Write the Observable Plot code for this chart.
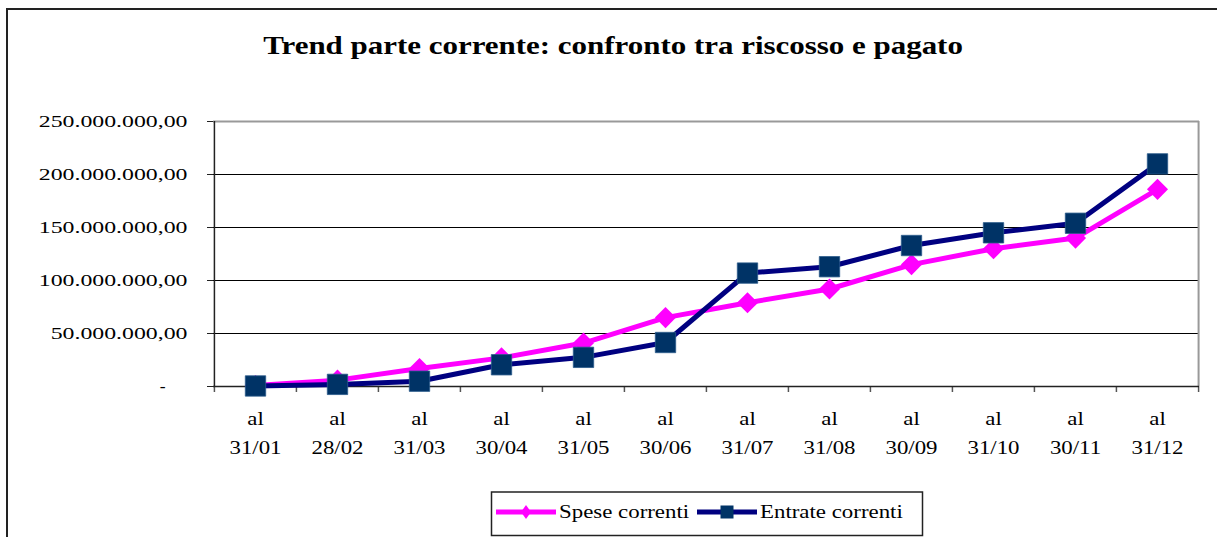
<!DOCTYPE html>
<html><head><meta charset="utf-8">
<script src="https://cdn.jsdelivr.net/npm/d3@7"></script>
<script src="https://cdn.jsdelivr.net/npm/@observablehq/plot@0.6"></script>
<style>
body{margin:0;background:#fff;}
#wrap{position:relative;width:1217px;height:537px;overflow:hidden;font-family:"Liberation Serif","Times New Roman",serif;background:#fff;}
#chart{position:absolute;left:0;top:0;}
#border{position:absolute;left:6px;top:8px;width:1300px;height:600px;border-top:2px solid #222;border-left:2px solid #222;pointer-events:none;}
#title{position:absolute;left:5px;width:1217px;top:33px;text-align:center;font-weight:bold;font-size:26px;line-height:26px;color:#000;white-space:nowrap;}
#title span{display:inline-block;transform:scaleX(1.19);transform-origin:center;}
#legend{position:absolute;left:0;top:0;}
</style>
</head><body>
<div id="wrap">
  <div id="chart"></div>
  <div id="border"></div>
  <div id="title"><span>Trend parte corrente: confronto tra riscosso e pagato</span></div>
  <svg id="legend" width="1217" height="537"></svg>
</div>
<script>
// ---- data (values in millions of euro) ----
const months = ["31/01","28/02","31/03","30/04","31/05","30/06","31/07","31/08","30/09","31/10","30/11","31/12"];
const monthPrefix = "al";
const speseCorrenti = [1, 6, 17, 27, 41, 65, 79, 92, 115, 130, 140, 186];
const entrateCorrenti = [0.5, 2, 5, 20.5, 27.5, 41.5, 107, 113, 133, 145, 154, 210];
const yTicks = [0, 50, 100, 150, 200, 250];
const seriesNames = ["Spese correnti", "Entrate correnti"];
const colors = {spese: "#FF00FF", entrateLine: "#000080", entrateMarker: "#003366"};

const M = 1e6;
const speseData = speseCorrenti.map((v, i) => ({month: months[i], value: v * M}));
const entrateData = entrateCorrenti.map((v, i) => ({month: months[i], value: v * M}));
const tickValues = yTicks.map(v => v * M);

const it = d3.formatLocale({decimal: ",", thousands: ".", grouping: [3], currency: ["€", ""]});
const fmt = it.format(",.2f");

const W = 1217, H = 537, mL = 213, mR = 18, mT = 121, mB = 151;
const step = (W - mL - mR) / months.length;
const font = "'Liberation Serif','Times New Roman',serif";

const chart = Plot.plot({
  width: W, height: H,
  marginLeft: mL, marginRight: mR, marginTop: mT, marginBottom: mB,
  style: {background: "transparent", fontFamily: font, fontSize: "17px", color: "#000"},
  x: {type: "point", domain: months, padding: 0.5, axis: null},
  y: {domain: [0, 250 * M], axis: null},
  marks: [
    Plot.ruleY(tickValues.filter(v => v > 0 && v < 250 * M), {stroke: "#000", strokeWidth: 1}),
    Plot.ruleY([250 * M], {stroke: "#999", strokeWidth: 2}),
    Plot.ruleX([months[months.length - 1]], {dx: step / 2, stroke: "#999", strokeWidth: 2}),
    Plot.ruleX(months, {x: d => d, dx: -step / 2, y1: 0, y2: 0, insetBottom: -6, stroke: "#555", strokeWidth: 1.5}),
    Plot.ruleX([months[months.length - 1]], {x: d => d, dx: step / 2, y1: 0, y2: 0, insetBottom: -6, stroke: "#555", strokeWidth: 1.5}),
    Plot.ruleY([0], {stroke: "#222", strokeWidth: 1.5}),
    Plot.ruleX([months[0]], {dx: -step / 2, stroke: "#222", strokeWidth: 1.5}),
    Plot.axisY(tickValues, {
      label: null, tickSize: 6, tickPadding: 20, stroke: "#222",
      tickFormat: d => d === 0 ? "-" : fmt(d), fontSize: 17.5, fill: "#000"
    }),
    Plot.text(months, {x: d => d, text: () => monthPrefix, frameAnchor: "bottom", dy: 33, lineAnchor: "middle", fontSize: 18, fill: "#000"}),
    Plot.text(months, {x: d => d, text: d => d, frameAnchor: "bottom", dy: 62, lineAnchor: "middle", fontSize: 18, fill: "#000"}),
    Plot.line(speseData, {x: "month", y: "value", stroke: colors.spese, strokeWidth: 5}),
    Plot.dot(speseData, {x: "month", y: "value", symbol: "diamond2", r: 9.5, fill: colors.spese, stroke: "none"}),
    Plot.line(entrateData, {x: "month", y: "value", stroke: colors.entrateLine, strokeWidth: 5}),
    Plot.dot(entrateData, {x: "month", y: "value", symbol: "square", r: 11.5, fill: colors.entrateMarker, stroke: "#2a5a8a", strokeWidth: 0.8})
  ]
});
document.getElementById("chart").appendChild(chart);

// reference glyphs are horizontally stretched: widen each text by adjusting its length
function stretch(el, s) {
  const len = el.getComputedTextLength();
  if (len > 0) {
    el.setAttribute("textLength", (len * s).toFixed(2));
    el.setAttribute("lengthAdjust", "spacingAndGlyphs");
  }
}
chart.querySelectorAll("text").forEach(t => {
  const s = t.textContent.trim();
  if (s === "-") { t.setAttribute("dx", "-22"); return; }
  stretch(t, s.includes(",") ? 1.36 : 1.27);
});

// legend
const lg = d3.select("#legend");
lg.append("rect").attr("x", 491.5).attr("y", 492).attr("width", 431).attr("height", 43.5)
  .attr("fill", "#fff").attr("stroke", "#222").attr("stroke-width", 1.5);
const items = [
  {name: seriesNames[0], x0: 496, line: colors.spese, marker: colors.spese, sym: "diamond"},
  {name: seriesNames[1], x0: 697, line: colors.entrateLine, marker: colors.entrateMarker, sym: "square"}
];
const ly = 512;
items.forEach(d => {
  lg.append("line").attr("x1", d.x0).attr("x2", d.x0 + 60).attr("y1", ly).attr("y2", ly)
    .attr("stroke", d.line).attr("stroke-width", 5);
  const cx = d.x0 + 30;
  if (d.sym === "diamond") {
    lg.append("path").attr("d", `M${cx},${ly - 7}L${cx + 5},${ly}L${cx},${ly + 7}L${cx - 5},${ly}Z`).attr("fill", d.marker);
  } else {
    lg.append("rect").attr("x", cx - 6.5).attr("y", ly - 6.5).attr("width", 13).attr("height", 13).attr("fill", d.marker);
  }
  const t = lg.append("text").attr("x", d.x0 + 63).attr("y", ly + 6).attr("font-size", 18)
    .attr("font-family", font).attr("fill", "#000").text(d.name);
  stretch(t.node(), 1.27);
});
</script>
</body></html>
